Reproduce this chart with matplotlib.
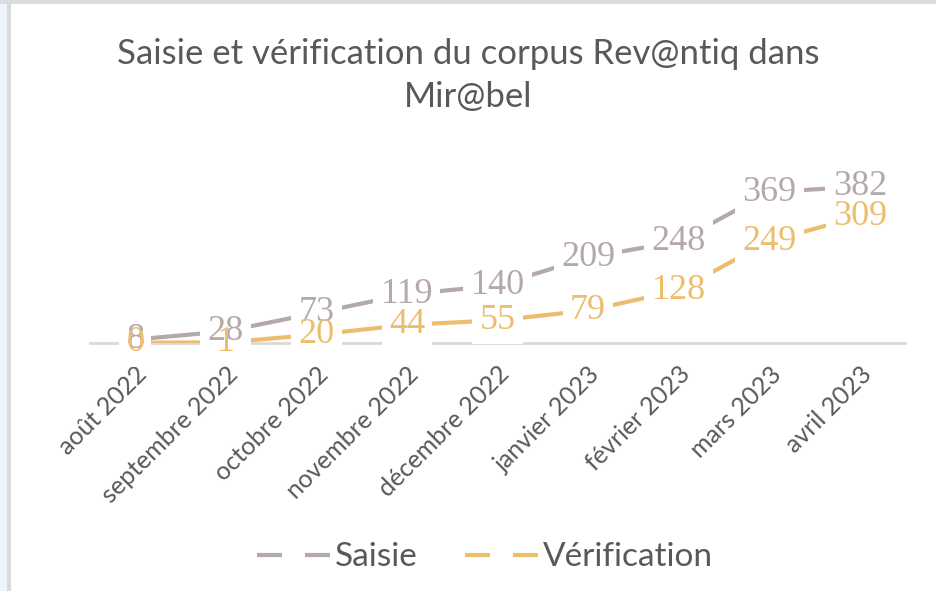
import matplotlib
matplotlib.use("Agg")
import matplotlib.pyplot as plt
from matplotlib.lines import Line2D
from matplotlib.patches import Rectangle

# data
mois = ["août 2022", "septembre 2022", "octobre 2022", "novembre 2022", "décembre 2022",
        "janvier 2023", "février 2023", "mars 2023", "avril 2023"]
saisie = [8, 28, 73, 119, 140, 209, 248, 369, 382]
verification = [0, 1, 20, 44, 55, 79, 128, 249, 309]

col_saisie = "#b5a8aa"
col_verif = "#ecbd6c"
gris = "#595959"

plt.rcParams["lines.scale_dashes"] = False

fig = plt.figure(figsize=(9.36, 5.91), dpi=100)
fig.patch.set_facecolor("white")

# screenshot border (light strip left, grey edge on top)
W, H = 936.0, 591.0
fig.patches.append(Rectangle((0, 0), 7 / W, 1, transform=fig.transFigure, fc="#eef3fb", ec="none", zorder=0))
fig.patches.append(Rectangle((7 / W, 0), 4 / W, 1, transform=fig.transFigure, fc="#dadada", ec="none", zorder=0))
fig.patches.append(Rectangle((0, 1 - 4 / H), 1, 4 / H, transform=fig.transFigure, fc="#dcdcdc", ec="none", zorder=0))

ax = fig.add_axes([0.096, 0.42, 0.871, 0.318])

x = list(range(len(mois)))
ax.plot(x, saisie, color=col_saisie, lw=3, zorder=2, solid_capstyle="butt")
ax.plot(x, verification, color=col_verif, lw=3, zorder=2, solid_capstyle="butt")

# labels: white patch hides the line, texts stay visible when they overlap
for serie, col in [(saisie, col_saisie), (verification, col_verif)]:
	for xi, v in zip(x, serie):
		ax.text(xi, v, str(v), ha="center", va="center", fontsize=26, family="Liberation Serif",
			color="white", zorder=3, bbox=dict(boxstyle="square,pad=0.2", fc="white", ec="none"))
for serie, col in [(saisie, col_saisie), (verification, col_verif)]:
	for xi, v in zip(x, serie):
		ax.text(xi, v, str(v), ha="center", va="center", fontsize=26, family="Liberation Serif",
			color=col, zorder=4)

ax.set_xlim(-0.5, len(mois) - 0.5)
ax.set_ylim(0, 460)
ax.set_yticks([])
for s in ["top", "right", "left"]:
	ax.spines[s].set_visible(False)
ax.spines["bottom"].set_color("#d9d9d9")
ax.spines["bottom"].set_linewidth(2)
ax.spines["bottom"].set_zorder(1)
ax.set_xticks(x)
ax.set_xticklabels(mois, rotation=45, ha="right", rotation_mode="anchor",
	fontsize=18, family="Lato", color=gris)
ax.tick_params(axis="x", length=0, pad=14)

fig.suptitle("Saisie et vérification du corpus Rev@ntiq dans\nMir@bel", y=0.935,
	fontsize=25, family="Lato", color=gris, linespacing=1.4)

handles = [Line2D([], [], color=col_saisie, lw=3, dashes=(18, 16.5)),
	Line2D([], [], color=col_verif, lw=3, dashes=(18, 16.5))]
fig.legend(handles, ["Saisie", "Vérification"], loc="center", bbox_to_anchor=(0.518, 0.057),
	ncol=2, frameon=False, prop={"family": "Lato", "size": 24}, labelcolor=gris,
	handlelength=2.2, handletextpad=0.15, columnspacing=1.4)

fig.savefig("out.png", dpi=100, facecolor=fig.get_facecolor())
